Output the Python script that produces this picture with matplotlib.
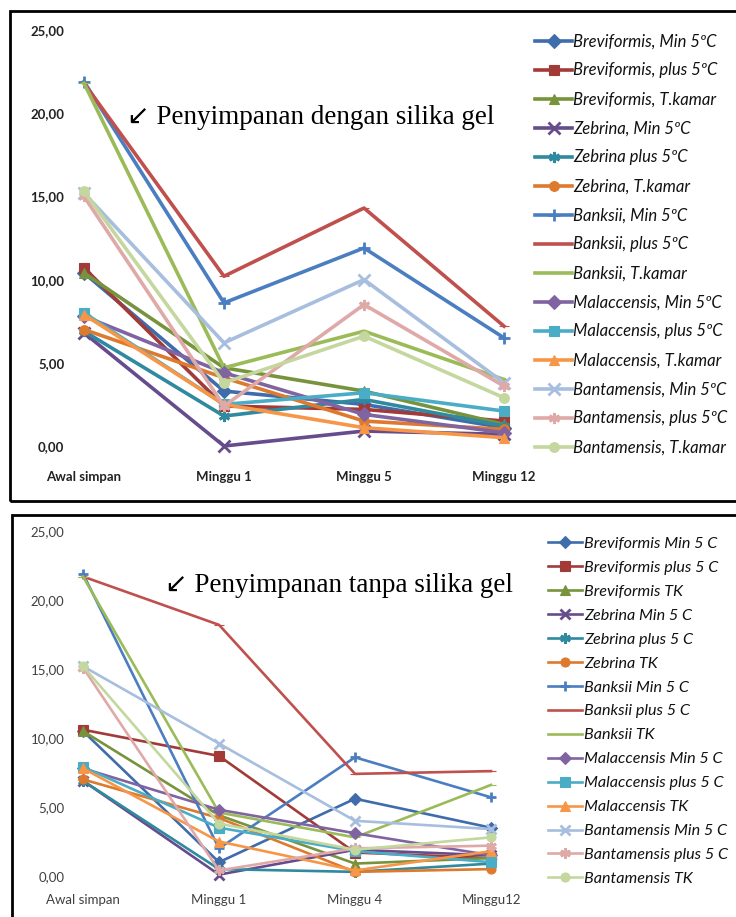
import numpy as np
import matplotlib.pyplot as plt
from matplotlib.patches import Rectangle

# data: top panel (dengan silika gel)
top_cats = ['Awal simpan', 'Minggu 1', 'Minggu 5', 'Minggu 12']
top_labels = ['Breviformis, Min 5ºC', 'Breviformis, plus 5ºC', 'Breviformis, T.kamar',
              'Zebrina, Min 5ºC', 'Zebrina plus 5ºC', 'Zebrina, T.kamar',
              'Banksii, Min 5ºC', 'Banksii, plus 5ºC', 'Banksii, T.kamar',
              'Malaccensis, Min 5ºC', 'Malaccensis, plus 5ºC', 'Malaccensis, T.kamar',
              'Bantamensis, Min 5ºC', 'Bantamensis, plus 5ºC', 'Bantamensis, T.kamar']
top_brev_min = [10.4, 3.3, 2.5, 1.1]
top_brev_plus = [10.7, 2.4, 2.2, 1.5]
top_brev_tk = [10.4, 4.7, 3.3, 1.3]
top_zeb_min = [6.8, 0.0, 0.9, 0.7]
top_zeb_plus = [6.9, 1.8, 2.8, 1.2]
top_zeb_tk = [7.0, 4.1, 1.5, 1.0]
top_bank_min = [21.9, 8.6, 11.9, 6.5]
top_bank_plus = [21.8, 10.2, 14.3, 7.2]
top_bank_tk = [21.8, 4.7, 6.9, 4.0]
top_mal_min = [7.8, 4.4, 1.9, 0.8]
top_mal_plus = [8.0, 2.5, 3.2, 2.1]
top_mal_tk = [7.9, 2.5, 1.1, 0.5]
top_ban_min = [15.2, 6.2, 10.0, 3.8]
top_ban_plus = [15.0, 2.4, 8.5, 3.6]
top_ban_tk = [15.3, 3.8, 6.6, 2.9]

# data: bottom panel (tanpa silika gel)
bot_cats = ['Awal simpan', 'Minggu 1', 'Minggu 4', 'Minggu12']
bot_labels = ['Breviformis Min 5 C', 'Breviformis plus 5 C', 'Breviformis TK',
              'Zebrina Min 5 C', 'Zebrina plus 5 C', 'Zebrina TK',
              'Banksii Min 5 C', 'Banksii plus 5 C', 'Banksii TK',
              'Malaccensis Min 5 C', 'Malaccensis plus 5 C', 'Malaccensis TK',
              'Bantamensis Min 5 C', 'Bantamensis plus 5 C', 'Bantamensis TK']
bot_brev_min = [10.5, 1.0, 5.6, 3.5]
bot_brev_plus = [10.6, 8.7, 1.7, 1.3]
bot_brev_tk = [10.5, 4.4, 0.9, 1.3]
bot_zeb_min = [6.9, 0.1, 1.9, 1.5]
bot_zeb_plus = [6.9, 0.5, 0.3, 0.9]
bot_zeb_tk = [7.0, 4.2, 0.3, 0.5]
bot_bank_min = [21.9, 2.0, 8.6, 5.7]
bot_bank_plus = [21.7, 18.2, 7.4, 7.6]
bot_bank_tk = [21.7, 4.6, 2.8, 6.6]
bot_mal_min = [7.8, 4.8, 3.1, 1.5]
bot_mal_plus = [7.9, 3.5, 1.8, 1.0]
bot_mal_tk = [7.8, 2.5, 0.4, 1.8]
bot_ban_min = [15.2, 9.6, 4.0, 3.4]
bot_ban_plus = [15.1, 0.4, 2.0, 2.2]
bot_ban_tk = [15.2, 3.8, 1.9, 2.8]

top_series = [top_brev_min, top_brev_plus, top_brev_tk, top_zeb_min, top_zeb_plus,
              top_zeb_tk, top_bank_min, top_bank_plus, top_bank_tk, top_mal_min,
              top_mal_plus, top_mal_tk, top_ban_min, top_ban_plus, top_ban_tk]
bot_series = [bot_brev_min, bot_brev_plus, bot_brev_tk, bot_zeb_min, bot_zeb_plus,
              bot_zeb_tk, bot_bank_min, bot_bank_plus, bot_bank_tk, bot_mal_min,
              bot_mal_plus, bot_mal_tk, bot_ban_min, bot_ban_plus, bot_ban_tk]

colors = ['#3F6CAB', '#A23B38', '#77933C', '#664C8C', '#2F8AA0', '#DD7A2E',
          '#4A7EC1', '#C0504D', '#9BBB59', '#8064A2', '#4BACC6', '#F79646',
          '#A7BEDE', '#DFA9A8', '#C4D79E']
asterisk = (6, 2, 0)
markers = ['D', 's', '^', 'x', asterisk, 'o', '+', '_', '_',
           'D', 's', '^', 'x', asterisk, 'o']

W, H = 736, 917
fig = plt.figure(figsize=(W / 100, H / 100), dpi=100)


def px_axes(x0, x1, y_top, y_bot):
    return fig.add_axes([x0 / W, 1 - y_bot / H, (x1 - x0) / W, (y_bot - y_top) / H])


# panel borders
fig.patches.append(Rectangle((10 / W, 1 - 501 / H), 760 / W, 490 / H, transform=fig.transFigure,
                             fill=False, lw=2, ec='black'))
fig.patches.append(Rectangle((12 / W, 1 - 940 / H), 760 / W, 425 / H, transform=fig.transFigure,
                             fill=False, lw=2, ec='black'))


def draw(ax, series, labels, cats, lw, ms, first_x, step, x0, x1, tick_kw, pad_x):
    x = np.arange(len(cats))
    for s, lab, c, m in zip(series, labels, colors, markers):
        lined = m in ('x', '+', asterisk)
        ax.plot(x, s, color=c, lw=lw, marker=m, ms=ms + (1 if lined else 0),
                mfc=c, mec=c, mew=2 if lined else 0.8,
                label=lab, clip_on=False, solid_joinstyle='round')
    ax.set_xlim((x0 - first_x) / step, 3 + (x1 - (first_x + 3 * step)) / step)
    ax.set_ylim(0, 25)
    ax.set_yticks(np.arange(0, 26, 5))
    ax.set_yticklabels([f'{v:.2f}'.replace('.', ',') for v in np.arange(0, 26, 5)], **tick_kw)
    ax.set_xticks(x)
    ax.set_xticklabels(cats, **tick_kw)
    for sp in ax.spines.values():
        sp.set_visible(False)
    ax.tick_params(axis='both', length=0)
    ax.tick_params(axis='y', pad=4)
    ax.tick_params(axis='x', pad=pad_x)
    ax.patch.set_alpha(0)


ax1 = px_axes(70, 525, 30, 446)
draw(ax1, top_series, top_labels, top_cats, 2.6, 7, 84, 140, 70, 525,
     dict(family='Lato', fontsize=9.5, fontweight='bold', color='#222222'), 18)
ax2 = px_axes(70, 525, 531, 876)
draw(ax2, bot_series, bot_labels, bot_cats, 1.9, 6.5, 83, 136, 70, 525,
     dict(family='Lato', fontsize=9.5, color='#404040'), 13)

leg1 = ax1.legend(loc='upper left', bbox_to_anchor=(527 / W, 1 - 25 / H),
                  bbox_transform=fig.transFigure, frameon=False,
                  prop=dict(family='Lato', style='italic', size=12),
                  handlelength=2.2, handletextpad=0.05, labelspacing=0.78, borderpad=0)
leg2 = ax2.legend(loc='upper left', bbox_to_anchor=(540 / W, 1 - 528.5 / H),
                  bbox_transform=fig.transFigure, frameon=False,
                  prop=dict(family='Lato', style='italic', size=11.6),
                  handlelength=2.1, handletextpad=0.15, labelspacing=0.60, borderpad=0)
for leg in (leg1, leg2):
    for t in leg.get_texts():
        t.set_color('#111111')

fig.text(127 / W, 1 - 117 / H, '↙ Penyimpanan dengan silika gel', family=['Liberation Serif', 'DejaVu Sans'],
         fontsize=19.5, va='center', ha='left')
fig.text(165 / W, 1 - 585 / H, '↙ Penyimpanan tanpa silika gel', family=['Liberation Serif', 'DejaVu Sans'],
         fontsize=19.5, va='center', ha='left')

fig.savefig('out.png', dpi=100)
